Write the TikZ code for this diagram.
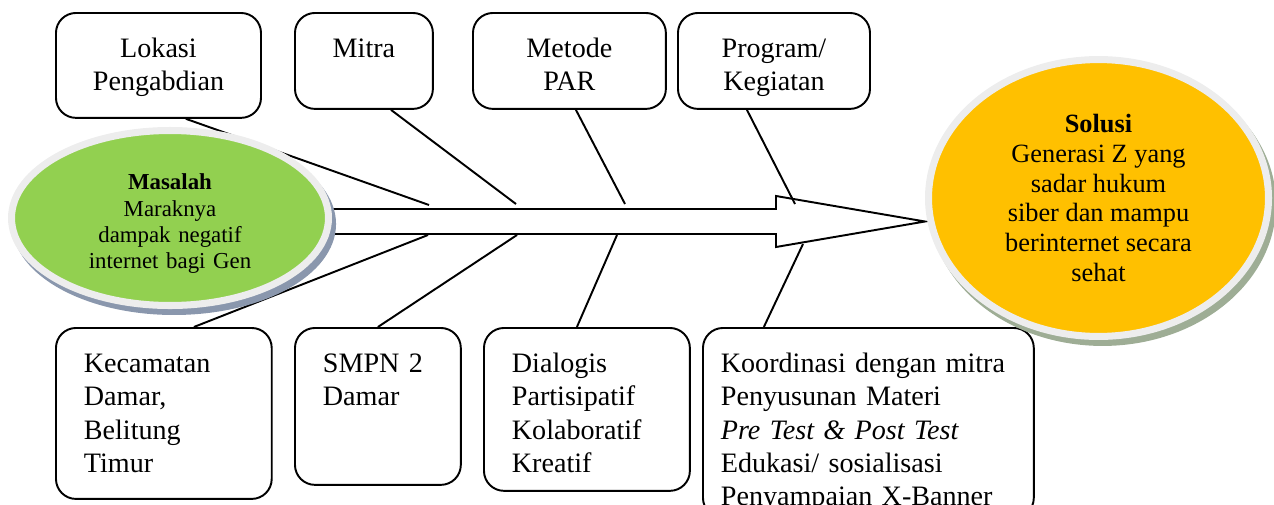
\documentclass[tikz,border=0pt]{standalone}
\usepackage{fontspec}
\setmainfont{Liberation Serif}
\usepackage{tikz}
\usetikzlibrary{shapes.geometric, shadows}
\definecolor{colmasalah}{HTML}{92D050}
\definecolor{colsolusi}{HTML}{FFC000}
\definecolor{colrim}{HTML}{EDEDED}
\definecolor{colshadem}{HTML}{8A97AD}
\definecolor{colshades}{HTML}{9EAD95}

\begin{document}
\begin{tikzpicture}[x=0.02cm, y=-0.02cm]
    \tikzstyle{box} = [draw=black, fill=white, line width=1.1pt, rounded corners=11.4pt,
                       anchor=north west, inner ysep=0pt, text height=25.6pt,
                       font=\fontsize{16pt}{18.8pt}\selectfont];
    \tikzstyle{boxtop} = [box, inner xsep=0pt, align=center];
    \tikzstyle{boxbot} = [box, inner xsep=15.9pt, align=left];
    \tikzstyle{bone} = [line width=1.1pt];
    \tikzstyle{blob} = [ellipse, draw=colrim, line width=4pt, inner sep=0pt, align=center];
    \useasboundingbox (0,0) rectangle (1274,504);

    \node (lokasi)  at ( 55, 12) [boxtop, text width=116.7pt, text depth=34.1pt]{Lokasi\\Pengabdian};
    \node (mitra)   at (294, 12) [boxtop, text width=78.5pt,  text depth=29.0pt]{Mitra};
    \node (metode)  at (472, 12) [boxtop, text width=109.8pt, text depth=29.0pt]{Metode\\PAR};
    \node (program) at (677, 12) [boxtop, text width=109.3pt, text depth=29.0pt]{Program/\\Kegiatan};

    \node (kecamatan)  at ( 55,327) [boxbot, text width=91.0pt, text depth=71.7pt]{Kecamatan\\Damar,\\Belitung\\Timur};
    \node (smpn)       at (294,327) [boxbot, text width=62.6pt, text depth=63.7pt]{SMPN 2\\Damar};
    \node (dialogis)   at (483,327) [boxbot, text width=85.4pt, text depth=67.1pt]{Dialogis\\Partisipatif\\Kolaboratif\\Kreatif};
    \node (koordinasi) at (702,327) [boxbot, inner xsep=10.2pt, text width=167.9pt, text depth=82.5pt]{Koordinasi dengan mitra\\Penyusunan Materi\\\textit{Pre Test \& Post Test}\\Edukasi/ sosialisasi\\Penyampaian X-Banner};

    \draw[line width=1.1pt, fill=white] (300,209) -- (776,209) -- (776,196) -- (925,221.5)
        -- (776,247) -- (776,234) -- (300,234) -- cycle;

    \coordinate (b1) at (429,205);
    \coordinate (b2) at (516,204);
    \coordinate (b3) at (625,204);
    \coordinate (b4) at (795,204);
    \coordinate (c1) at (428,235);
    \coordinate (c2) at (517,235);
    \coordinate (c3) at (617,235);
    \coordinate (c4) at (803,244);

    \begin{scope}[bone]
      \draw ([xshift=15.6pt]lokasi.south)      -- (b1);
      \draw ([xshift=15.4pt]mitra.south)       -- (b2);
      \draw ([xshift=3.7pt]metode.south)       -- (b3);
      \draw ([xshift=-15.4pt]program.south)    -- (b4);
      \draw ([xshift=17.1pt]kecamatan.north)   -- (c1);
      \draw (smpn.north)                       -- (c2);
      \draw ([xshift=-5.7pt]dialogis.north)    -- (c3);
      \draw ([xshift=-59.5pt]koordinasi.north) -- (c4);
    \end{scope}

    \node (masalah) at (170,218) [blob, fill=colmasalah, minimum width=180.4pt, minimum height=99.6pt,
        text width=110pt, text height=15.8pt,
        drop shadow={shadow xshift=2.3pt, shadow yshift=-3.4pt, fill=colshadem, draw=colshadem, line width=4pt, opacity=1},
        font=\fontsize{13pt}{15pt}\selectfont]{\textbf{Masalah}\\Maraknya\\dampak negatif\\internet bagi Gen};
    \node (solusi) at (1098.5,198) [blob, fill=colsolusi, minimum width=193.5pt, minimum height=157.6pt,
        drop shadow={shadow xshift=2.3pt, shadow yshift=-3.4pt, fill=colshades, draw=colshades, line width=4pt, opacity=1},
        font=\fontsize{15pt}{17pt}\selectfont]{\textbf{Solusi}\\Generasi Z yang\\sadar hukum\\siber dan mampu\\berinternet secara\\sehat};
\end{tikzpicture}
\end{document}
